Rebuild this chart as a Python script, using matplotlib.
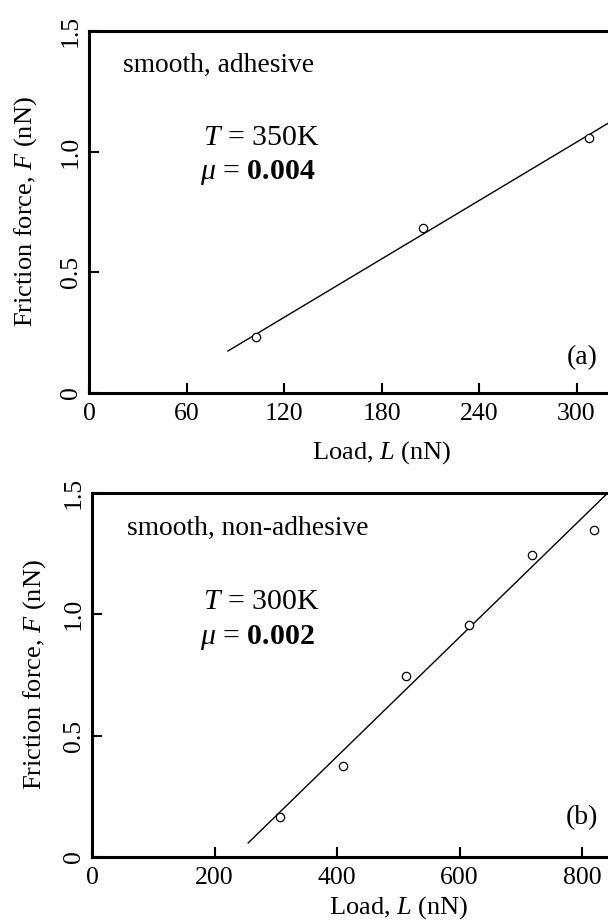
import matplotlib
matplotlib.use('Agg')
import matplotlib.pyplot as plt

plt.rcParams['font.family'] = ['Liberation Serif', 'DejaVu Serif']
plt.rcParams['mathtext.fontset'] = 'custom'
plt.rcParams['mathtext.rm'] = 'Liberation Serif'
plt.rcParams['mathtext.it'] = 'Liberation Serif:italic'
plt.rcParams['mathtext.bf'] = 'Liberation Serif:bold'

# panel (a): smooth, adhesive, T = 350K
load_a = [103, 205.5, 307.7]
force_a = [0.232, 0.684, 1.057]
fit_load_a = [85.5, 320]
fit_force_a = [0.174, 1.12]

# panel (b): smooth, non-adhesive, T = 300K
load_b = [307, 410, 513, 615, 718, 820]
force_b = [0.165, 0.375, 0.746, 0.956, 1.244, 1.347]
fit_load_b = [255, 842]
fit_force_b = [0.058, 1.50]

W, H = 608, 922
fig = plt.figure(figsize=(W / 100, H / 100), dpi=100)

def make_axes(left, top, bottom, px_per_unit, xmax):
    # axes placed in pixel terms, runs past the right edge (cropped like the source)
    width = px_per_unit * xmax
    return fig.add_axes([left / W, (H - bottom) / H, width / W, (bottom - top) / H])

def style(ax, xticks, xmax):
    ax.set_xlim(0, xmax)
    ax.set_ylim(0, 1.5)
    ax.set_xticks(xticks)
    ax.set_yticks([0, 0.5, 1.0, 1.5])
    ax.set_yticklabels(['0', '0.5', '1.0', '1.5'])
    for s in ax.spines.values():
        s.set_linewidth(2.2)
    ax.tick_params(direction='in', length=7, width=1.5, labelsize=18.5, pad=7)
    ax.tick_params(axis='y', pad=5)
    for lab in ax.get_yticklabels():
        lab.set_rotation(90)
        lab.set_va('center')
    ax.set_xlabel(r'Load, $L$ (nN)', fontsize=19)
    ax.set_ylabel(r'Friction force, $F$ (nN)', fontsize=19)

ax1 = make_axes(89, 31, 393, 1.625, 360)
style(ax1, [0, 60, 120, 180, 240, 300], 360)
ax1.plot(fit_load_a, fit_force_a, color='black', lw=1.0)
ax1.plot(load_a, force_a, 'o', mfc='white', mec='black', ms=6, mew=0.9)
ax1.text(0.058, 0.906, 'smooth, adhesive', transform=ax1.transAxes, fontsize=19.8, va='center')
ax1.text(0.195, 0.704, r'$T$ = 350K', transform=ax1.transAxes, fontsize=21.5, va='center')
ax1.text(0.190, 0.610, r'$\mu$ = $\mathbf{0.004}$', transform=ax1.transAxes, fontsize=21.5, va='center')
ax1.text(0.817, 0.097, '(a)', transform=ax1.transAxes, fontsize=20, va='center')
ax1.xaxis.set_label_coords(0.5, -0.128)
ax1.yaxis.set_label_coords(-0.0855, 0.5)

ax2 = make_axes(92, 493, 857, 0.6125, 1000)
style(ax2, [0, 200, 400, 600, 800], 1000)
ax2.plot(fit_load_b, fit_force_b, color='black', lw=1.0)
ax2.plot(load_b, force_b, 'o', mfc='white', mec='black', ms=6, mew=0.9)
ax2.text(0.057, 0.904, 'smooth, non-adhesive', transform=ax2.transAxes, fontsize=19.8, va='center')
ax2.text(0.181, 0.700, r'$T$ = 300K', transform=ax2.transAxes, fontsize=21.5, va='center')
ax2.text(0.176, 0.604, r'$\mu$ = $\mathbf{0.002}$', transform=ax2.transAxes, fontsize=21.5, va='center')
ax2.text(0.774, 0.107, '(b)', transform=ax2.transAxes, fontsize=20, va='center')
ax2.xaxis.set_label_coords(0.5, -0.103)
ax2.yaxis.set_label_coords(-0.072, 0.5)

fig.savefig('out.png', dpi=100)
